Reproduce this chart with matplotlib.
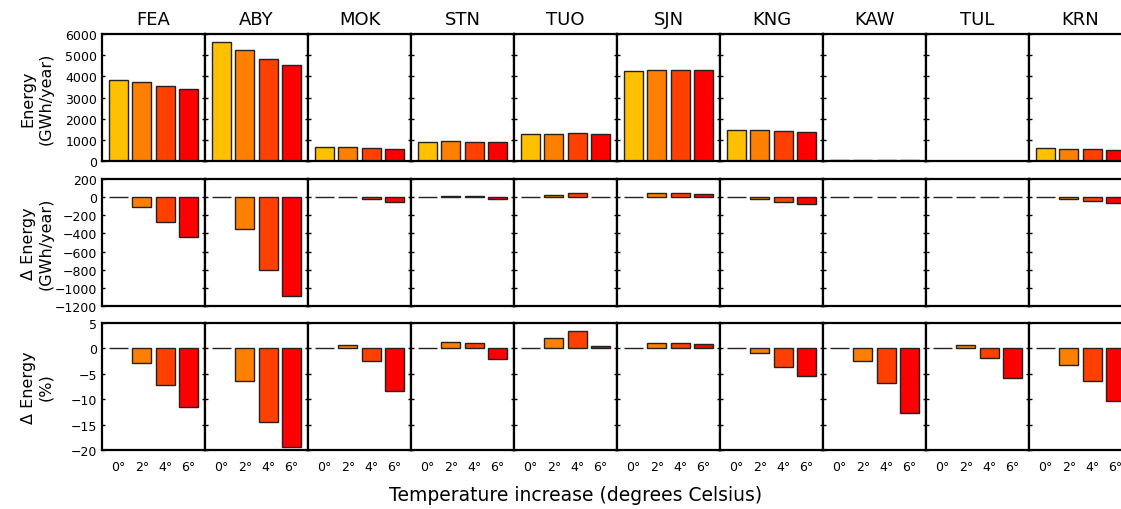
import numpy as np
import matplotlib
matplotlib.use('Agg')
import matplotlib.pyplot as plt

stations = ['FEA', 'ABY', 'MOK', 'STN', 'TUO', 'SJN', 'KNG', 'KAW', 'TUL', 'KRN']
warming = ['0°', '2°', '4°', '6°']

# annual energy (GWh/year) for 0, 2, 4, 6 degrees of warming
energy = [
    [3830, 3720, 3554, 3395],
    [5607, 5250, 4800, 4520],
    [640, 643, 625, 586],
    [910, 922, 919, 891],
    [1270, 1296, 1313, 1276],
    [4240, 4282, 4285, 4277],
    [1470, 1455, 1416, 1391],
    [30, 29.3, 27.9, 26.2],
    [5, 5.04, 4.91, 4.7],
    [600, 581, 561, 538],
]
# change in energy (GWh/year)
delta = [
    [0, -110, -276, -435],
    [0, -355, -805, -1087],
    [0, 4, -15, -53],
    [0, 12, 9, -19],
    [0, 26, 43, 6],
    [0, 42, 45, 37],
    [0, -15, -54, -79],
    [0, -0.7, -2.1, -3.8],
    [0, 0.04, -0.09, -0.3],
    [0, -19, -39, -62],
]
# change in energy (%)
pct = [
    [0, -2.95, -7.3, -11.45],
    [0, -6.35, -14.4, -19.4],
    [0, 0.6, -2.5, -8.4],
    [0, 1.35, 1.0, -2.1],
    [0, 2.0, 3.4, 0.45],
    [0, 1.0, 1.05, 0.85],
    [0, -1.0, -3.7, -5.4],
    [0, -2.4, -6.9, -12.7],
    [0, 0.7, -1.8, -5.9],
    [0, -3.2, -6.5, -10.3],
]

colors = ['#ffc000', '#ff8000', '#ff4000', '#ff0000']

W, H = 1121, 510
fig = plt.figure(figsize=(W / 100., H / 100.), dpi=100)

x0, pw = 102, 103
rows = [(35, 162), (180, 307), (324, 451)]
row_data = [energy, delta, pct]
ylims = [(0, 6000), (-1200, 200), (-20, 5)]
yticks = [np.arange(0, 6001, 1000), np.arange(-1200, 201, 200), np.arange(-20, 6, 5)]
ylabels = ['Energy\n(GWh/year)', '\u0394 Energy\n(GWh/year)', '\u0394 Energy\n(%)']

x = np.arange(4)
for r, (top, bot) in enumerate(rows):
    for i, st in enumerate(stations):
        ax = fig.add_axes([(x0 + i * pw) / W, (H - bot) / H, pw / W, (bot - top) / H])
        ax.bar(x, row_data[r][i], width=0.8, color=colors,
               edgecolor='#222222', linewidth=1.0)
        ax.set_xlim(-0.7, 3.7)
        ax.set_ylim(ylims[r])
        ax.set_yticks(yticks[r])
        for sp in ax.spines.values():
            sp.set_linewidth(1.6)
        ax.tick_params(axis='y', direction='in', length=2.5, width=1,
                       left=True, right=True, labelsize=9)
        ax.tick_params(axis='x', length=0, labelsize=9, pad=7)
        if i > 0:
            ax.set_yticklabels([])
        if r == 2:
            ax.set_xticks(x)
            ax.set_xticklabels(warming)
        else:
            ax.set_xticks([])
        if r == 0:
            ax.set_title(st, fontsize=13, pad=7)
    fig.text(37 / W, 1 - (top + bot) / 2. / H, ylabels[r], rotation=90,
             ha='center', va='center', fontsize=11.5, multialignment='center')

fig.text(576 / W, 1 - 496. / H, 'Temperature increase (degrees Celsius)',
         ha='center', va='center', fontsize=13.5)

fig.savefig('out.png', dpi=100)
